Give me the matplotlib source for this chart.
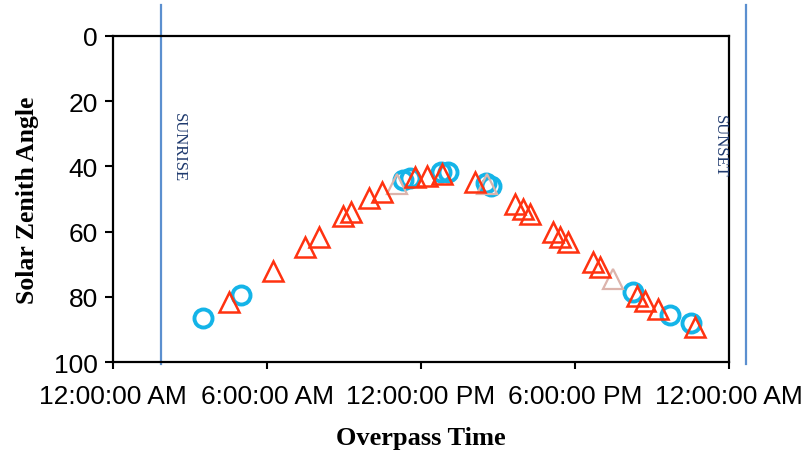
"""Solar zenith angle versus satellite overpass time."""

from __future__ import annotations

import matplotlib

matplotlib.use("Agg")
import matplotlib.pyplot as plt  # noqa: E402

# overpass time in hours after midnight, zenith angle in degrees
CIRCLE_HOURS = [3.51, 4.99, 11.30, 11.57, 12.78, 13.05, 14.53, 14.73, 20.26, 21.70, 22.50]
CIRCLE_ANGLES = [86.5, 79.4, 44.2, 43.6, 41.7, 41.7, 45.1, 46.0, 78.5, 85.6, 88.0]

TRIANGLE_HOURS = [
    4.52, 6.23, 7.48, 8.02, 8.96, 9.27, 9.97, 10.48, 11.76, 12.23, 12.82,
    14.10, 15.66, 15.97, 16.24, 17.14, 17.41, 17.72, 18.70, 18.97, 20.41,
    20.72, 21.23, 22.67,
]
TRIANGLE_ANGLES = [
    81.6, 72.1, 64.7, 61.7, 55.2, 54.0, 49.7, 47.9, 43.3, 42.9, 42.3,
    44.8, 51.5, 53.1, 54.6, 60.2, 61.7, 63.2, 69.3, 70.9, 79.8,
    81.3, 83.7, 89.3,
]

PALE_HOURS = [11.06, 14.57, 19.48]
PALE_ANGLES = [45.4, 45.4, 74.5]

SUNRISE_HOUR = 1.86
SUNSET_HOUR = 24.66

X_TICKS = [0, 6, 12, 18, 24]
X_TICK_LABELS = ["12:00:00 AM", "6:00:00 AM", "12:00:00 PM", "6:00:00 PM", "12:00:00 AM"]
Y_TICKS = [0, 20, 40, 60, 80, 100]

SANS = "Liberation Sans"
SERIF = "Liberation Serif"


def main() -> None:
    fig = plt.figure(figsize=(8.05, 4.56), dpi=100)
    ax = fig.add_axes([0.1404, 0.2039, 0.7652, 0.715])

    ax.plot(CIRCLE_HOURS, CIRCLE_ANGLES, linestyle="none", marker="o",
            markersize=13, markerfacecolor="none", markeredgecolor="#14b4e8",
            markeredgewidth=2.8, zorder=3)
    ax.plot(PALE_HOURS, PALE_ANGLES, linestyle="none", marker="^",
            markersize=14, markerfacecolor="none", markeredgecolor="#dcb4ac",
            markeredgewidth=1.6, zorder=4)
    ax.plot(TRIANGLE_HOURS, TRIANGLE_ANGLES, linestyle="none", marker="^",
            markersize=14, markerfacecolor="none", markeredgecolor="#ff3210",
            markeredgewidth=1.8, zorder=5)

    for hour in (SUNRISE_HOUR, SUNSET_HOUR):
        ax.axvline(hour, ymin=-0.006, ymax=1.095, color="#5b8fcf",
                   linewidth=1.6, clip_on=False, zorder=2)

    ax.text(SUNRISE_HOUR + 0.7, 34, "SUNRISE", rotation=-90, ha="center",
            va="center", family=SERIF, fontsize=12, color="#1f3a6e")
    ax.text(23.65, 33.5, "SUNSET", rotation=-90, ha="center",
            va="center", family=SERIF, fontsize=12, color="#1f3a6e")

    ax.set_xlim(0, 24)
    ax.set_ylim(100, 0)
    ax.set_xticks(X_TICKS)
    ax.set_xticklabels(X_TICK_LABELS, family=SANS, fontsize=19)
    ax.set_yticks(Y_TICKS)
    ax.set_yticklabels([str(v) for v in Y_TICKS], family=SANS, fontsize=19)
    ax.tick_params(axis="x", direction="out", length=5, width=1.5, pad=11)
    ax.tick_params(axis="y", direction="out", length=6, width=1.5, pad=5)

    for spine in ax.spines.values():
        spine.set_linewidth(1.6)
        spine.set_color("black")

    ax.set_xlabel("Overpass Time", family=SERIF, fontweight="bold",
                  fontsize=19, labelpad=13)
    ax.set_ylabel("Solar Zenith Angle", family=SERIF, fontweight="bold",
                  fontsize=18.5, labelpad=11)

    fig.savefig("out.png", dpi=100)
    plt.close(fig)


if __name__ == "__main__":
    main()
